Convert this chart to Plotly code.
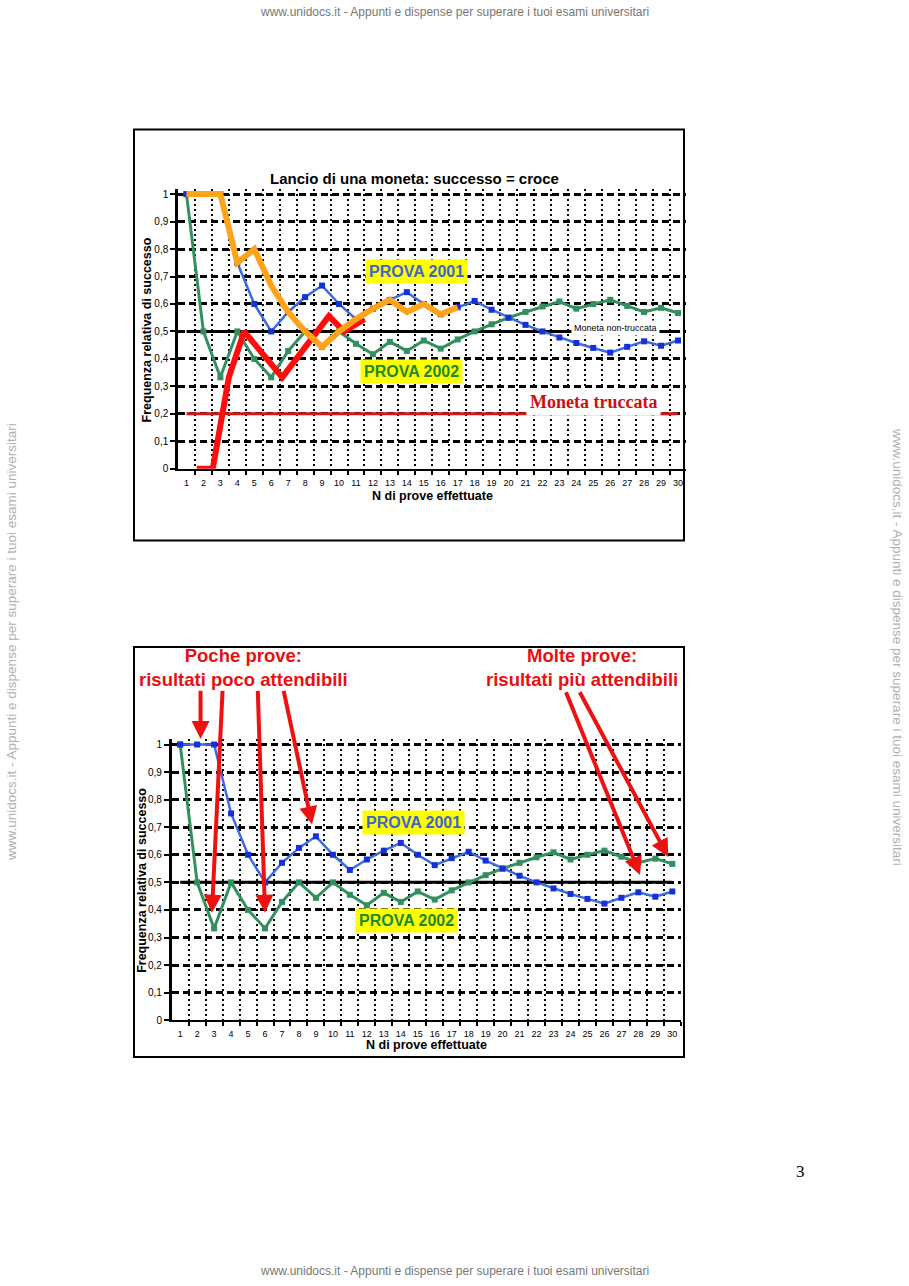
import plotly.graph_objects as go

# ---------------- data ----------------
n_prove = list(range(1, 31))
prova_2001 = [1.0, 1.0, 1.0, 0.75, 0.6, 0.5, 0.571, 0.625, 0.667, 0.6,
              0.545, 0.583, 0.615, 0.643, 0.6, 0.5625, 0.588, 0.611, 0.579, 0.55,
              0.524, 0.5, 0.478, 0.458, 0.44, 0.423, 0.444, 0.464, 0.448, 0.467]
prova_2002 = [1.0, 0.5, 0.333, 0.5, 0.4, 0.333, 0.429, 0.5, 0.444, 0.5,
              0.455, 0.417, 0.462, 0.429, 0.467, 0.4375, 0.471, 0.5, 0.526, 0.55,
              0.571, 0.591, 0.609, 0.583, 0.6, 0.615, 0.593, 0.571, 0.586, 0.567]
orange_n = list(range(1, 18))
orange_vals = [1.0, 1.0, 1.0, 0.75, 0.8, 0.667, 0.571, 0.5, 0.444, 0.5,
               0.545, 0.583, 0.615, 0.571, 0.6, 0.5625, 0.588]
# hand-drawn red freeform (positions)
red_x = [1.6, 2.55, 3.5, 4.4, 6.65, 9.4, 10.3, 11.5]
red_y = [0.0, 0.0, 0.333, 0.5, 0.333, 0.556, 0.5, 0.545]
fair_level = 0.5
biased_level = 0.2
ref_x = [1, 30]
y_ticks = [0, 0.1, 0.2, 0.3, 0.4, 0.5, 0.6, 0.7, 0.8, 0.9, 1.0]
y_ticktext = ["0", "0,1", "0,2", "0,3", "0,4", "0,5", "0,6", "0,7", "0,8", "0,9", "1"]
x_ticktext = [str(i) for i in n_prove]
boundaries = [i + 0.5 for i in range(1, 31)]

# arrows in the 2nd chart: (tail_x, tail_y, head_x, head_y) in data units
arrows = [
    (2.2, 1.2, 2.2, 1.02),
    (3.5, 1.2, 2.87, 0.39),
    (5.57, 1.2, 6.0, 0.39),
    (7.08, 1.2, 8.77, 0.71),
    (23.7, 1.195, 28.1, 0.527),
    (24.5, 1.195, 29.76, 0.592),
]

W, H = 909, 1286
def px(x):
    return x / W
def py(y):
    return 1 - y / H

FONT = "Liberation Sans, Arial, sans-serif"
SERIF = "Liberation Serif, Times New Roman, serif"
BLUE = "#3d6be0"
BLUE_M = "#1530d8"
GREEN = "#33905e"
ORANGE = "#ffa31a"
RED = "#ff0d0d"

fig = go.Figure()

def add_series(xa, ya, with_extra):
    fig.add_trace(go.Scatter(x=ref_x, y=[fair_level, fair_level], mode="lines",
                             line=dict(color="black", width=3), xaxis=xa, yaxis=ya,
                             cliponaxis=False, hoverinfo="skip"))
    if with_extra:
        fig.add_trace(go.Scatter(x=ref_x, y=[biased_level, biased_level], mode="lines",
                                 line=dict(color="#d01818", width=3), xaxis=xa, yaxis=ya,
                                 cliponaxis=False, hoverinfo="skip"))
    fig.add_trace(go.Scatter(x=n_prove, y=prova_2002, mode="lines+markers",
                             line=dict(color=GREEN, width=3),
                             marker=dict(symbol="square", size=6, color=GREEN),
                             xaxis=xa, yaxis=ya, cliponaxis=False))
    fig.add_trace(go.Scatter(x=n_prove, y=prova_2001, mode="lines+markers",
                             line=dict(color=BLUE, width=2.5),
                             marker=dict(symbol="square", size=6, color=BLUE_M),
                             xaxis=xa, yaxis=ya, cliponaxis=False))
    if with_extra:
        fig.add_trace(go.Scatter(x=red_x, y=red_y, mode="lines",
                                 line=dict(color=RED, width=6),
                                 xaxis=xa, yaxis=ya, cliponaxis=False))
        fig.add_trace(go.Scatter(x=orange_n, y=orange_vals, mode="lines",
                                 line=dict(color=ORANGE, width=6),
                                 xaxis=xa, yaxis=ya, cliponaxis=False))

add_series("x", "y", True)
add_series("x2", "y2", False)

def xaxis_cfg(left, spacing, rng):
    return dict(
        domain=[px(left), px(left + (rng[1] - rng[0]) * spacing)],
        range=rng, tickmode="array", tickvals=n_prove, ticktext=x_ticktext,
        showgrid=False, zeroline=False, showline=True, linecolor="black", linewidth=2,
        ticks="outside", ticklen=4, tickcolor="rgba(0,0,0,0)",
        tickfont=dict(family=FONT, size=9, color="black"),
        minor=dict(tickmode="array", tickvals=boundaries, showgrid=True,
                   gridcolor="black", griddash="2px,3px", gridwidth=2,
                   ticks="outside", ticklen=4, tickcolor="black", tickwidth=2),
        fixedrange=True,
    )

def yaxis_cfg(bottom, unit):
    return dict(
        domain=[py(bottom), py(bottom - 1.02 * unit)],
        range=[0, 1.02], tickmode="array", tickvals=y_ticks, ticktext=y_ticktext,
        showgrid=True, gridcolor="black", griddash="7px,4px", gridwidth=2.5,
        zeroline=False, showline=True, linecolor="black", linewidth=2.5,
        ticks="outside", ticklen=5, tickwidth=2, tickcolor="black",
        tickfont=dict(family=FONT, size=10, color="black"),
        fixedrange=True,
    )

fig.update_layout(
    width=W, height=H, margin=dict(l=0, r=0, t=0, b=0),
    paper_bgcolor="white", plot_bgcolor="white", showlegend=False,
    xaxis=dict(xaxis_cfg(178, 16.95, [0.5, 30.45]), anchor="y"),
    yaxis=dict(yaxis_cfg(471, 276), anchor="x"),
    xaxis2=dict(xaxis_cfg(171.7, 16.97, [0.5, 30.5]), anchor="y2"),
    yaxis2=dict(yaxis_cfg(1025, 277), anchor="x2"),
)

ann = []
def text(x, y, s, size, color="black", bold=False, family=FONT, angle=0, bg=None, pad=1, **kw):
    t = f"<b>{s}</b>" if bold else s
    d = dict(x=px(x), y=py(y), xref="paper", yref="paper", text=t, showarrow=False,
             font=dict(family=family, size=size, color=color), textangle=angle,
             xanchor="center", yanchor="middle")
    if bg:
        d.update(bgcolor=bg, borderpad=pad)
    d.update(kw)
    ann.append(d)

# watermark-like page texts
wm = "www.unidocs.it - Appunti e dispense per superare i tuoi esami universitari"
text(454, 12, wm, 12, color="#777777")
text(454, 1277, wm, 12, color="#777777")
text(12, 645, wm, 13.5, color="#b0b0b0", angle=-90)
text(897, 650, wm, 13.5, color="#b0b0b0", angle=90)
text(800, 1177, "3", 17, family=SERIF)

# chart 1 texts
text(414, 179, "Lancio di una moneta: successo = croce", 15, bold=True)
text(147, 332, "Frequenza relativa di successo", 12.5, bold=True, angle=-90)
text(432, 498, "N di prove effettuate", 12.5, bold=True)
text(416, 273, "PROVA 2001", 16, color="#3a66d0", bold=True, bg="#ffff00", pad=3)
text(411, 373, "PROVA 2002", 16, color="#1c8a2a", bold=True, bg="#ffff00", pad=3)
text(615, 330, "Moneta non-truccata", 9, bg="white", pad=2)
text(593, 404, "Moneta truccata", 18, color="#cc1010", bold=True,
     family=SERIF, bg="white", pad=3)

# chart 2 texts
text(142, 885, "Frequenza relativa di successo", 12.5, bold=True, angle=-90)
text(426, 1050, "N di prove effettuate", 12.5, bold=True)
text(413, 826, "PROVA 2001", 16, color="#3a66d0", bold=True, bg="#ffff00", pad=3)
text(406, 925, "PROVA 2002", 16, color="#1c8a2a", bold=True, bg="#ffff00", pad=3)
text(243, 671, "Poche prove:<br>risultati poco attendibili", 18.5, color="#e81010", bold=True)
text(582, 671, "Molte prove:<br>risultati più attendibili", 18.5, color="#e81010", bold=True)

for (tx, ty, hx, hy) in arrows:
    ann.append(dict(x=hx, y=hy, xref="x2", yref="y2", ax=tx, ay=ty, axref="x2", ayref="y2",
                    text="", showarrow=True, arrowhead=2, arrowsize=0.9, arrowwidth=4,
                    arrowcolor="#ee1111", standoff=0))

fig.update_layout(annotations=ann)

fig.update_layout(shapes=[
    dict(type="rect", xref="paper", yref="paper", x0=px(134), x1=px(684), y0=py(543), y1=py(130),
         line=dict(color="black", width=2), layer="above"),
    dict(type="rect", xref="paper", yref="paper", x0=px(134), x1=px(684), y0=py(1062), y1=py(650),
         line=dict(color="black", width=2), layer="above"),
])

fig.write_html("out.html")
